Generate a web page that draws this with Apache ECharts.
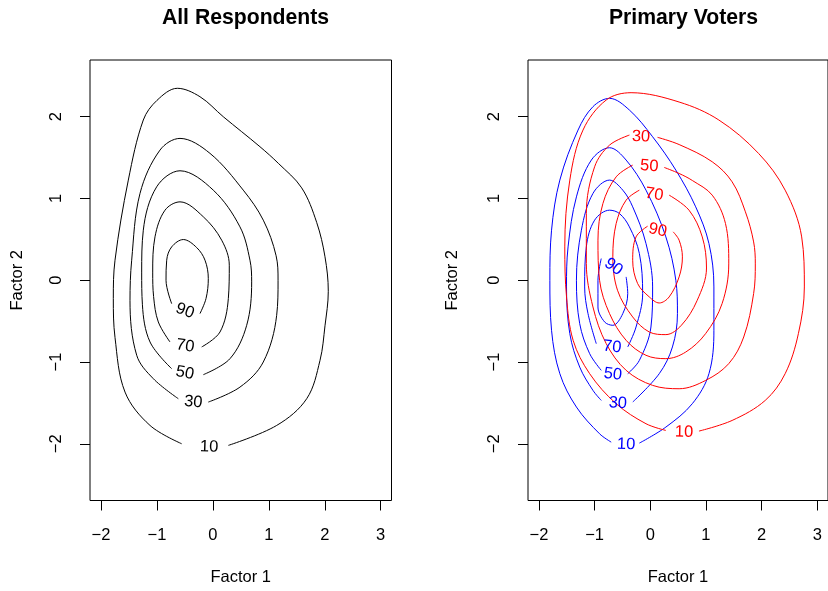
<!DOCTYPE html>
<html>
<head>
<meta charset="utf-8">
<script src="https://cdn.jsdelivr.net/npm/echarts@6/dist/echarts.min.js"></script>
<style>
html,body{margin:0;padding:0;background:#fff;}
#chart{width:828px;height:591px;}
</style>
</head>
<body>
<div id="chart"></div>
<script>
// ---------- tick labels ----------
const xTicks = [-2, -1, 0, 1, 2, 3];
const yTicks = [-2, -1, 0, 1, 2];
const levels = [10, 30, 50, 70, 90];
const titles = ['All Respondents', 'Primary Voters'];
const xName = 'Factor 1';
const yName = 'Factor 2';

// ---------- All Respondents (black) contour paths ----------
const all10 = [[0.276,-2.02],[1.14,-1.776],[1.677,-1.449],[1.915,-0.98],[2.004,-0.557],[2.063,-0.135],[2.004,0.287],[1.855,0.708],[1.587,1.13],[1.17,1.43],[0.842,1.633],[0.186,2.0],[-0.231,2.245],[-0.636,2.348],[-1.0,2.2],[-1.244,1.96],[-1.512,1.225],[-1.75,0.245],[-1.78,-0.224],[-1.75,-0.7],[-1.571,-1.368],[-1.124,-1.776],[-0.558,-2.0]];
const all30 = [[-0.082,-1.49],[0.484,-1.307],[0.901,-1.0],[1.14,-0.429],[1.165,0.0],[1.13,0.3],[0.901,0.735],[0.543,1.102],[-0.052,1.552],[-0.588,1.735],[-0.946,1.592],[-1.303,1.062],[-1.452,0.245],[-1.482,-0.25],[-1.362,-0.918],[-1.065,-1.204],[-0.618,-1.449]];
const all50 = [[-0.171,-1.155],[0.306,-0.959],[0.604,-0.551],[0.693,-0.02],[0.663,0.245],[0.484,0.653],[0.007,1.102],[-0.588,1.339],[-1.005,1.143],[-1.244,0.612],[-1.273,0.1],[-1.26,-0.3],[-1.124,-0.755],[-0.737,-1.082]];
const all70 = [[-0.2,-0.816],[0.127,-0.633],[0.276,-0.224],[0.293,0.184],[0.157,0.49],[-0.171,0.776],[-0.588,0.959],[-0.856,0.857],[-1.035,0.531],[-1.076,0.1],[-1.06,-0.2],[-0.976,-0.51],[-0.767,-0.755]];
const all90 = [[-0.231,-0.408],[-0.123,-0.224],[-0.082,0.02],[-0.141,0.245],[-0.29,0.4],[-0.529,0.498],[-0.737,0.408],[-0.826,0.245],[-0.838,0.0],[-0.737,-0.286]];
// label anchor points [x, y, angle]
const allLabels = [[-0.066,-2.04,-2],[-0.351,-1.49,-6],[-0.499,-1.135,-11],[-0.493,-0.804,-9],[-0.499,-0.376,-20]];

// ---------- Primary Voters, blue contour paths ----------
const blue10 = [[-0.196,-1.992],[0.28,-1.796],[0.755,-1.51],[1.054,-1.143],[1.143,-0.612],[1.143,-0.082],[1.054,0.449],[0.816,0.898],[0.459,1.347],[0.042,1.755],[-0.375,2.082],[-0.732,2.225],[-1.03,2.123],[-1.298,1.837],[-1.625,1.225],[-1.774,0.612],[-1.804,0],[-1.774,-0.612],[-1.625,-1.143],[-1.327,-1.551],[-0.911,-1.878],[-0.702,-1.98]];
const blue30 = [[-0.316,-1.49],[0.161,-1.143],[0.398,-0.816],[0.488,-0.408],[0.459,0],[0.28,0.53],[-0.077,1.102],[-0.434,1.47],[-0.732,1.621],[-1.059,1.47],[-1.327,1.02],[-1.477,0.408],[-1.505,-0.082],[-1.446,-0.653],[-1.268,-1.062],[-1.03,-1.347],[-0.88,-1.47]];
const blue50 = [[-0.405,-1.143],[-0.196,-0.98],[0.012,-0.572],[0.042,-0.082],[-0.077,0.449],[-0.316,0.898],[-0.494,1.102],[-0.732,1.225],[-1.03,1.062],[-1.238,0.612],[-1.327,0],[-1.268,-0.531],[-1.089,-0.898],[-0.881,-1.102]];
const blue70 = [[-0.405,-0.816],[-0.256,-0.572],[-0.137,-0.163],[-0.196,0.327],[-0.375,0.653],[-0.554,0.816],[-0.732,0.857],[-1.0,0.735],[-1.149,0.408],[-1.179,-0.082],[-1.119,-0.408],[-0.97,-0.776]];
const blue90 = [[-0.434,0.041],[-0.405,-0.163],[-0.494,-0.408],[-0.673,-0.551],[-0.821,-0.51],[-0.94,-0.327],[-0.94,0],[-0.881,0.265]];
const blueLabels = [[-0.434,-2.009,-2],[-0.584,-1.503,-3],[-0.673,-1.151,-7],[-0.685,-0.816,-6],[-0.661,0.163,-36]];

// ---------- Primary Voters, red contour paths ----------
const red10 = [[0.875,-1.845],[1.47,-1.715],[2.065,-1.47],[2.423,-1.143],[2.661,-0.653],[2.768,-0.082],[2.72,0.53],[2.423,1.102],[1.946,1.551],[1.232,1.96],[0.518,2.18],[-0.345,2.294],[-0.791,2.205],[-1.209,1.837],[-1.446,1.225],[-1.536,0.408],[-1.505,-0.204],[-1.386,-0.735],[-1.089,-1.143],[-0.613,-1.51],[-0.077,-1.755],[0.28,-1.837]];
const red30 = [[0.131,1.748],[0.518,1.66],[1.113,1.449],[1.47,1.204],[1.709,0.837],[1.857,0.469],[1.887,0.2],[1.857,-0.163],[1.679,-0.694],[1.41,-1.02],[0.995,-1.225],[0.518,-1.327],[0.042,-1.286],[-0.434,-1.102],[-0.792,-0.775],[-1.03,-0.327],[-1.149,0.205],[-1.149,0.817],[-1.0,1.388],[-0.732,1.653],[-0.375,1.776]];
const red50 = [[0.25,1.38],[0.518,1.306],[0.756,1.22],[1.113,1.041],[1.351,0.694],[1.41,0.2],[1.29,-0.286],[0.994,-0.653],[0.637,-0.878],[0.28,-0.959],[-0.077,-0.918],[-0.434,-0.735],[-0.732,-0.408],[-0.911,0],[-0.94,0.49],[-0.851,0.939],[-0.613,1.265],[-0.316,1.408]];
const red70 = [[0.339,1.041],[0.696,0.857],[0.934,0.53],[1.01,0.15],[0.84,-0.25],[0.56,-0.55],[0.28,-0.665],[-0.018,-0.633],[-0.316,-0.449],[-0.589,-0.122],[-0.673,0.286],[-0.613,0.694],[-0.434,0.98],[-0.196,1.102]];
const red90 = [[0.411,0.592],[0.518,0.49],[0.577,0.286],[0.518,0.041],[0.339,-0.204],[0.161,-0.278],[-0.018,-0.204],[-0.227,-0.041],[-0.316,0.245],[-0.256,0.53],[-0.048,0.661]];
const redLabels = [[0.607,-1.858,-1],[-0.167,1.755,-2],[-0.018,1.396,-4],[0.071,1.049,-9],[0.131,0.612,-12]];

// ---------- chart ----------
const FONT = 'Liberation Sans, Arial, Helvetica, sans-serif';
const FS = 16.5;
const fmt = v => (v < 0 ? '\u2212' + Math.abs(v) : String(v));

const xRange = [-2.197, 3.193];
const yRange = [-2.694, 2.694];

function xAxisFor(i) {
  return {
    type: 'value', gridIndex: i, min: xRange[0], max: xRange[1], position: 'bottom',
    splitLine: {show: false},
    axisLine: {show: false, onZero: false},
    axisTick: {show: true, length: 10, lineStyle: {color: '#000', width: 1}, customValues: xTicks},
    axisLabel: {show: true, customValues: xTicks, formatter: fmt, color: '#000', fontFamily: FONT, fontSize: FS, margin: 26},
    name: xName, nameLocation: 'middle', nameGap: 68,
    nameTextStyle: {color: '#000', fontFamily: FONT, fontSize: FS}
  };
}
function yAxisFor(i) {
  return {
    type: 'value', gridIndex: i, min: yRange[0], max: yRange[1], position: 'left',
    splitLine: {show: false},
    axisLine: {show: false, onZero: false},
    axisTick: {show: true, length: 10, lineStyle: {color: '#000', width: 1}, customValues: yTicks},
    axisLabel: {show: true, customValues: yTicks, formatter: fmt, rotate: 90, color: '#000', fontFamily: FONT, fontSize: FS, margin: 25},
    name: yName, nameLocation: 'middle', nameGap: i === 0 ? 64 : 67,
    nameTextStyle: {color: '#000', fontFamily: FONT, fontSize: FS}
  };
}

function contour(path, color, gi) {
  return {
    type: 'line', xAxisIndex: gi, yAxisIndex: gi, data: path,
    smooth: 0.35, showSymbol: false, symbol: 'none', silent: true, animation: false,
    lineStyle: {color: color, width: 1, opacity: 1}, z: 2
  };
}
function labels(arr, color, gi) {
  return {
    type: 'scatter', xAxisIndex: gi, yAxisIndex: gi, symbolSize: 0, silent: true, animation: false, z: 5,
    itemStyle: {opacity: 1, color: color},
    data: arr.map((p, k) => ({
      value: [p[0], p[1]], name: String(levels[k]),
      label: {rotate: p[2]}
    })),
    label: {show: true, position: 'inside', formatter: '{b}', color: color, opacity: 1, textBorderWidth: 0, textShadowBlur: 0, fontFamily: FONT, fontSize: FS}
  };
}

const chart = echarts.init(document.getElementById('chart'), null, {renderer: 'canvas'});
chart.setOption({
  backgroundColor: '#fff',
  animation: false,
  title: [
    {text: titles[0], left: 240.5, top: 3, textAlign: 'center', textStyle: {fontFamily: FONT, fontSize: 21.2, fontWeight: 'bold', color: '#000'}},
    {text: titles[1], left: 678.5, top: 3, textAlign: 'center', textStyle: {fontFamily: FONT, fontSize: 21.2, fontWeight: 'bold', color: '#000'}}
  ],
  grid: [
    {left: 90, top: 60, width: 301.5, height: 440.5, show: true, borderColor: '#000', borderWidth: 1, backgroundColor: 'transparent'},
    {left: 528, top: 60, width: 301.5, height: 440.5, show: true, borderColor: '#000', borderWidth: 1, backgroundColor: 'transparent'}
  ],
  xAxis: [xAxisFor(0), xAxisFor(1)],
  yAxis: [yAxisFor(0), yAxisFor(1)],
  series: [
    contour(all10, '#000', 0), contour(all30, '#000', 0), contour(all50, '#000', 0), contour(all70, '#000', 0), contour(all90, '#000', 0),
    labels(allLabels, '#000', 0),
    contour(blue10, '#0000FF', 1), contour(blue30, '#0000FF', 1), contour(blue50, '#0000FF', 1), contour(blue70, '#0000FF', 1), contour(blue90, '#0000FF', 1),
    labels(blueLabels, '#0000FF', 1),
    contour(red10, '#FF0000', 1), contour(red30, '#FF0000', 1), contour(red50, '#FF0000', 1), contour(red70, '#FF0000', 1), contour(red90, '#FF0000', 1),
    labels(redLabels, '#FF0000', 1)
  ]
});
</script>
</body>
</html>
